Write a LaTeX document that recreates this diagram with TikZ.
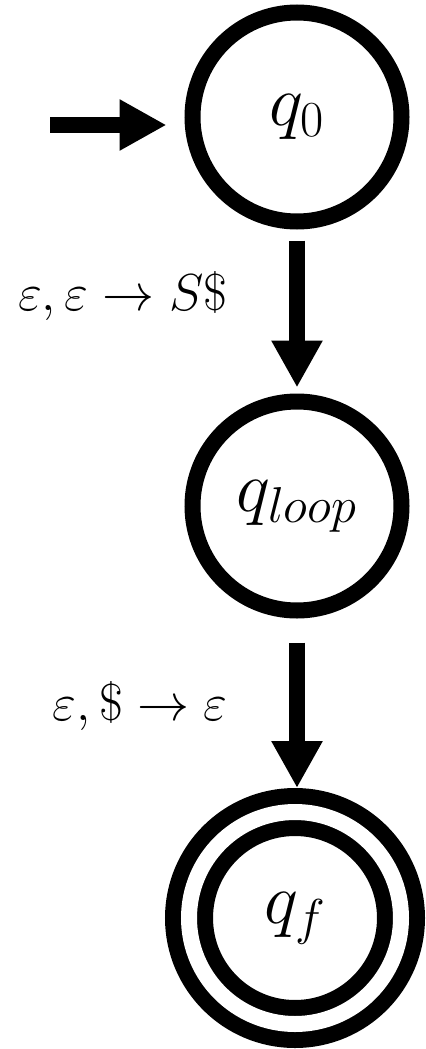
\RequirePackage{fix-cm}
\documentclass[tikz,border=0pt]{standalone}
\usepackage{tikz}
\usetikzlibrary{arrows.meta}

\begin{document}
\begin{tikzpicture}[
  x=0.5pt,y=-0.5pt,
  state/.style={circle,draw,line width=8pt,inner sep=0pt,minimum size=104.5pt,font=\fontsize{36}{43}\selectfont},
  accept/.style={state,double,double distance=8pt,minimum size=106pt,outer sep=12pt},
  trans/.style={line width=8pt,-{Triangle[width=24pt,length=23.5pt]}},
  lbl/.style={anchor=base east,inner sep=0pt,font=\fontsize{26}{31}\selectfont}
]
\useasboundingbox (0,0) rectangle (426,1049);
\node[state] (q0) at (297,117) {$q_0$};
\node[state] (qloop) at (297,506) {$q_{loop}$};
\node[accept] (qf) at (295,918) {$q_f$};
\coordinate (start) at (50,125);
\draw[trans,shorten >=9pt] (start) -- (start -| q0.west);
\draw[trans,shorten <=5.5pt,shorten >=3pt] (q0) -- (qloop);
\draw[trans,shorten <=12pt] (qloop) -- (qloop |- qf.north);
\node[lbl] (l1) at (228,310) {$\varepsilon, \varepsilon \rightarrow S\$$};
\node[lbl] (l2) at (228,720) {$\varepsilon, \$ \rightarrow \varepsilon$};
\end{tikzpicture}
\end{document}
